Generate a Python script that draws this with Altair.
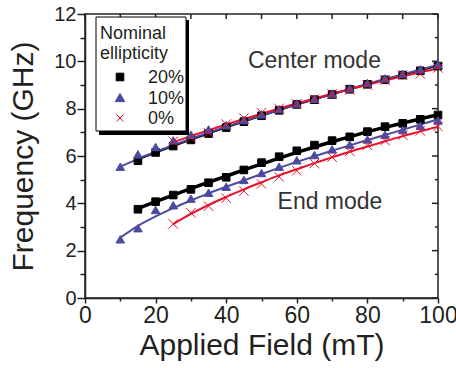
import altair as alt
import pandas as pd

FONT = "Liberation Sans"
TXT = "#231f20"
AX = "#222222"

series_names = ["20%", "10%", "0%"]
series_colors = ["#000000", "#4b4ba0", "#e8112d"]
series_fills = ["#000000", "#4b4ba0", "transparent"]
x_path = "M-1,-1L1,1M-1,1L1,-1"
series_shapes = ["square", "triangle-up", x_path]
series_sizes = [58, 90, 50]

legend_title = ["Nominal", "ellipticity"]

fields_10 = [10, 15, 20, 25, 30, 35, 40, 45, 50, 55, 60, 65, 70, 75, 80, 85, 90, 95, 100]
fields_15 = [15, 20, 25, 30, 35, 40, 45, 50, 55, 60, 65, 70, 75, 80, 85, 90, 95, 100]
fields_25 = [25, 30, 35, 40, 45, 50, 55, 60, 65, 70, 75, 80, 85, 90, 95, 100]

# Center mode measurements
c20 = [5.80, 6.15, 6.42, 6.68, 6.95, 7.20, 7.45, 7.70, 7.93, 8.18, 8.38, 8.60, 8.82, 9.03, 9.22, 9.42, 9.60, 9.80]
c10 = [5.55, 6.07, 6.38, 6.66, 6.90, 7.12, 7.30, 7.52, 7.76, 7.98, 8.22, 8.42, 8.64, 8.86, 9.08, 9.28, 9.47, 9.66, 9.86]
c0 = [6.62, 6.78, 6.98, 7.35, 7.60, 7.83, 8.01, 8.20, 8.40, 8.62, 8.79, 9.00, 9.21, 9.42, 9.47, 9.72]
# Center mode fits
fc20 = [5.85, 6.14, 6.42, 6.69, 6.95, 7.21, 7.46, 7.70, 7.94, 8.17, 8.39, 8.61, 8.82, 9.03, 9.23, 9.43, 9.62, 9.81]
fc10 = [5.55, 5.88, 6.18, 6.46, 6.73, 6.99, 7.24, 7.48, 7.72, 7.95, 8.18, 8.40, 8.62, 8.83, 9.04, 9.25, 9.45, 9.65, 9.85]
fc0 = [6.58, 6.84, 7.09, 7.33, 7.56, 7.79, 8.01, 8.22, 8.43, 8.63, 8.82, 9.01, 9.19, 9.37, 9.54, 9.70]

# End mode measurements
e20 = [3.75, 4.07, 4.35, 4.59, 4.87, 5.10, 5.41, 5.72, 5.97, 6.22, 6.46, 6.65, 6.81, 7.03, 7.24, 7.38, 7.55, 7.73]
e10 = [2.48, 2.95, 3.72, 3.92, 4.20, 4.45, 4.70, 4.99, 5.28, 5.55, 5.82, 6.04, 6.28, 6.48, 6.70, 6.90, 7.10, 7.28, 7.50]
e0 = [3.13, 3.60, 3.88, 4.22, 4.52, 4.82, 5.12, 5.38, 5.68, 5.95, 6.20, 6.45, 6.65, 6.88, 7.06, 7.25]
# End mode fits
fe20 = [3.78, 4.07, 4.35, 4.62, 4.89, 5.15, 5.41, 5.66, 5.91, 6.15, 6.38, 6.60, 6.81, 7.02, 7.21, 7.39, 7.57, 7.75]
fe10 = [2.55, 3.05, 3.45, 3.80, 4.12, 4.42, 4.70, 4.97, 5.24, 5.50, 5.75, 5.99, 6.22, 6.45, 6.67, 6.89, 7.11, 7.33, 7.55]
fe0 = [3.12, 3.55, 3.93, 4.27, 4.59, 4.89, 5.18, 5.44, 5.70, 5.94, 6.18, 6.40, 6.62, 6.84, 7.04, 7.24]

x_ticks = [0, 10, 20, 30, 40, 50, 60, 70, 80, 90, 100]
y_ticks = [0, 1, 2, 3, 4, 5, 6, 7, 8, 9, 10, 11, 12]
y_even = [0, 2, 4, 6, 8, 10, 12]
y_odd = [1, 3, 5, 7, 9, 11]

ann_text = ["Center mode", "End mode"]
ann_x = [65.0, 69.4]
ann_y = [9.72, 3.76]

rows = []
def add(mode, kind, series, xs, ys):
    for a, b in zip(xs, ys):
        rows.append({"field": a, "freq": b, "series": series, "mode": mode, "kind": kind})

add("center", "pt", "20%", fields_15, c20)
add("center", "pt", "10%", fields_10, c10)
add("center", "pt", "0%", fields_25, c0)
add("end", "pt", "20%", fields_15, e20)
add("end", "pt", "10%", fields_10, e10)
add("end", "pt", "0%", fields_25, e0)
add("center", "fit", "20%", fields_15, fc20)
add("center", "fit", "10%", fields_10, fc10)
add("center", "fit", "0%", fields_25, fc0)
add("end", "fit", "20%", fields_15, fe20)
add("end", "fit", "10%", fields_10, fe10)
add("end", "fit", "0%", fields_25, fe0)
df = pd.DataFrame(rows)

xscale = alt.Scale(domain=[0, 100], nice=False, zero=False)
yscale = alt.Scale(domain=[0, 12], nice=False, zero=False)

x_axis = alt.Axis(
    values=x_ticks,
    labelExpr="datum.value % 20 === 0 ? datum.label : ''",
    tickSize={"condition": {"test": "datum.value % 20 === 0", "value": 5}, "value": 3},
    labelFontSize=23, labelPadding=1, labelFont=FONT, labelColor=TXT,
    labelFlush=False, labelOverlap=False,
    titleFontSize=30, titleFont=FONT, titleColor=TXT, titleFontWeight="normal",
    titleBaseline="alphabetic", titleY=56,
    grid=False, domainColor=AX, domainWidth=1.5, tickColor=AX, tickWidth=1.5,
)
y_axis = alt.Axis(
    values=y_ticks,
    labelExpr="datum.value % 2 === 0 ? datum.label : ''",
    tickSize={"condition": {"test": "datum.value % 2 === 0", "value": 8}, "value": 5},
    labelFontSize=20, labelPadding=1, labelFont=FONT, labelColor=TXT,
    labelFlush=False, labelOverlap=False,
    titleFontSize=30, titleFont=FONT, titleColor=TXT, titleFontWeight="normal",
    titleBaseline="alphabetic", titleX=-53,
    grid=False, domainColor=AX, domainWidth=1.5, tickColor=AX, tickWidth=1.5,
)

X = alt.X("field:Q", scale=xscale, axis=x_axis, title="Applied Field (mT)")
Y = alt.Y("freq:Q", scale=yscale, axis=y_axis, title="Frequency (GHz)")

base = alt.Chart(df)

color_line = alt.Color("series:N", scale=alt.Scale(domain=series_names, range=series_colors), legend=None)

thick = base.transform_filter("datum.kind == 'fit' && datum.series == '20%' && datum.mode == 'end'").mark_line(
    interpolate="monotone", strokeWidth=3.5).encode(x=X, y=Y, color=color_line, detail="mode:N")
thin = base.transform_filter("datum.kind == 'fit' && !(datum.series == '20%' && datum.mode == 'end')").mark_line(
    interpolate="monotone", strokeWidth=2).encode(x=X, y=Y, color=color_line, detail="mode:N",
                                                 order=alt.Order("field:Q"))

points = base.transform_filter("datum.kind == 'pt'").mark_point(filled=True, strokeWidth=1, opacity=1).encode(
    x=X, y=Y,
    shape=alt.Shape("series:N", scale=alt.Scale(domain=series_names, range=series_shapes), legend=None),
    fill=alt.Fill("series:N", scale=alt.Scale(domain=series_names, range=series_fills), legend=None),
    stroke=alt.Stroke("series:N", scale=alt.Scale(domain=series_names, range=series_colors), legend=None),
    size=alt.Size("series:N", scale=alt.Scale(domain=series_names, range=series_sizes), legend=None),
)

one = pd.DataFrame({"a": [0]})
shadow = alt.Chart(one).mark_rect(color="#000000").encode(
    x=alt.value(14), x2=alt.value(104), y=alt.value(6), y2=alt.value(121))
box = alt.Chart(one).mark_rect(fill="#ffffff", stroke="#000000", strokeWidth=1).encode(
    x=alt.value(11), x2=alt.value(101), y=alt.value(3), y2=alt.value(117))

# manual legend
leg_layers = []
leg_layers.append(alt.Chart(one).mark_text(text=legend_title[0], font=FONT, fontSize=18, color=TXT,
                                           align="left", baseline="alphabetic").encode(x=alt.value(15), y=alt.value(25)))
leg_layers.append(alt.Chart(one).mark_text(text=legend_title[1], font=FONT, fontSize=18, color=TXT,
                                           align="left", baseline="alphabetic").encode(x=alt.value(15), y=alt.value(45)))
row_y = [63, 83.5, 104]
for i, name in enumerate(series_names):
    leg_layers.append(alt.Chart(one).mark_point(
        shape=series_shapes[i], filled=True, fill=series_fills[i], stroke=series_colors[i],
        strokeWidth=1, size=series_sizes[i], opacity=1).encode(x=alt.value(35), y=alt.value(row_y[i])))
    leg_layers.append(alt.Chart(one).mark_text(text=name, font=FONT, fontSize=18, color=TXT,
                                               align="left", baseline="middle").encode(x=alt.value(63), y=alt.value(row_y[i] + 1)))

top_ticks = alt.Chart(pd.DataFrame({"field": x_ticks})).mark_rule(color=AX, strokeWidth=1.5).encode(
    x=alt.X("field:Q", scale=xscale, axis=x_axis, title="Applied Field (mT)"),
    y=alt.value(0), y2=alt.value(5))
right_even = alt.Chart(pd.DataFrame({"freq": y_even})).mark_rule(color=AX, strokeWidth=1.5).encode(
    y=alt.Y("freq:Q", scale=yscale, axis=y_axis, title="Frequency (GHz)"),
    x=alt.value(347), x2=alt.value(353))
right_odd = alt.Chart(pd.DataFrame({"freq": y_odd})).mark_rule(color=AX, strokeWidth=1.5).encode(
    y=alt.Y("freq:Q", scale=yscale, axis=y_axis, title="Frequency (GHz)"),
    x=alt.value(350), x2=alt.value(353))

ann = alt.Chart(pd.DataFrame({"label": ann_text, "field": ann_x, "freq": ann_y})).mark_text(
    font=FONT, fontSize=23, color="#333333", align="center", baseline="alphabetic").encode(
    x=X, y=Y, text="label:N")

chart = alt.layer(
    top_ticks, right_even, right_odd, thick, thin, points, ann, shadow, box, *leg_layers
).properties(
    width=353, height=284,
    padding={"left": 85, "top": 14, "right": 18, "bottom": 70},
    autosize=alt.AutoSizeParams(type="none"),
    background="#ffffff",
).configure_view(stroke=AX, strokeWidth=1.5)

chart.save("out.html", embed_options={"renderer": "svg", "actions": False})
